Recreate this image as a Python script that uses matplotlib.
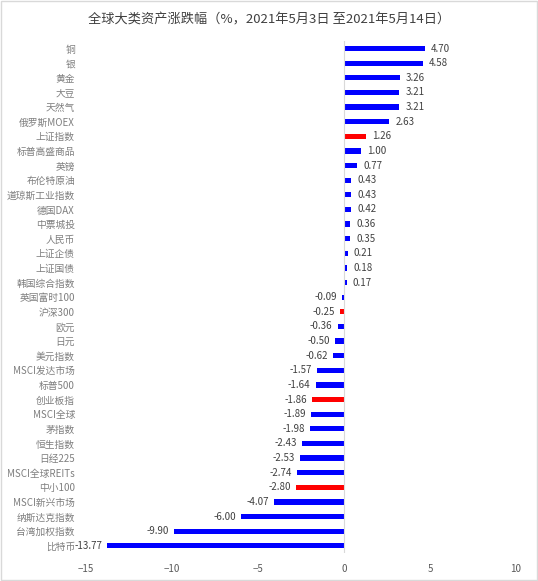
import numpy as np
import matplotlib
matplotlib.use('Agg')
import matplotlib.pyplot as plt

plt.rcParams['font.family'] = ['Noto Sans CJK SC', 'DejaVu Sans']

names = ['铜', '银', '黄金', '大豆', '天然气', '俄罗斯MOEX', '上证指数', '标普高盛商品',
         '英镑', '布伦特原油', '道琼斯工业指数', '德国DAX', '中票城投', '人民币', '上证企债',
         '上证国债', '韩国综合指数', '英国富时100', '沪深300', '欧元', '日元', '美元指数',
         'MSCI发达市场', '标普500', '创业板指', 'MSCI全球', '茅指数', '恒生指数', '日经225',
         'MSCI全球REITs', '中小100', 'MSCI新兴市场', '纳斯达克指数', '台湾加权指数', '比特币']
values = [4.70, 4.58, 3.26, 3.21, 3.21, 2.63, 1.26, 1.00, 0.77, 0.43, 0.43, 0.42, 0.36,
          0.35, 0.21, 0.18, 0.17, -0.09, -0.25, -0.36, -0.50, -0.62, -1.57, -1.64, -1.86,
          -1.89, -1.98, -2.43, -2.53, -2.74, -2.80, -4.07, -6.00, -9.90, -13.77]
red_ones = ['上证指数', '沪深300', '创业板指', '中小100']

colors = ['#ff0000' if n in red_ones else '#0000ff' for n in names]
y = np.arange(len(names))

fig = plt.figure(figsize=(5.38, 5.81), dpi=100)
fig.patches.append(plt.Rectangle((0.002, 0.002), 0.996, 0.996, transform=fig.transFigure,
                                 fill=False, edgecolor='#d9d9d9', linewidth=1))
ax = fig.add_axes([0.16, 0.048, 0.799, 0.881])

ax.barh(y, values, height=0.36, color=colors)
ax.set_ylim(len(names) - 0.5, -0.5)
ax.set_xlim(-15, 10)
ax.set_xticks([-15, -10, -5, 0, 5, 10])
ax.set_yticks(y)
ax.set_yticklabels(names)
ax.tick_params(axis='y', length=0, labelsize=7, labelcolor='#7f7f7f', pad=8)
ax.tick_params(axis='x', length=0, labelsize=7, labelcolor='#595959', pad=8)
for s in ax.spines.values():
    s.set_visible(False)
ax.axvline(0, color='#d9d9d9', linewidth=0.8)

for yi, v in zip(y, values):
    if v >= 0:
        ax.text(v + 0.35, yi, '%.2f' % v, va='center', ha='left', fontsize=7, color='#404040')
    else:
        ax.text(v - 0.3, yi, '%.2f' % v, va='center', ha='right', fontsize=7, color='#404040')

fig.text(0.5, 0.965, '全球大类资产涨跌幅（%，2021年5月3日 至2021年5月14日）',
         ha='center', va='center', fontsize=9.5, color='#404040')

fig.savefig('out.png', dpi=100)
